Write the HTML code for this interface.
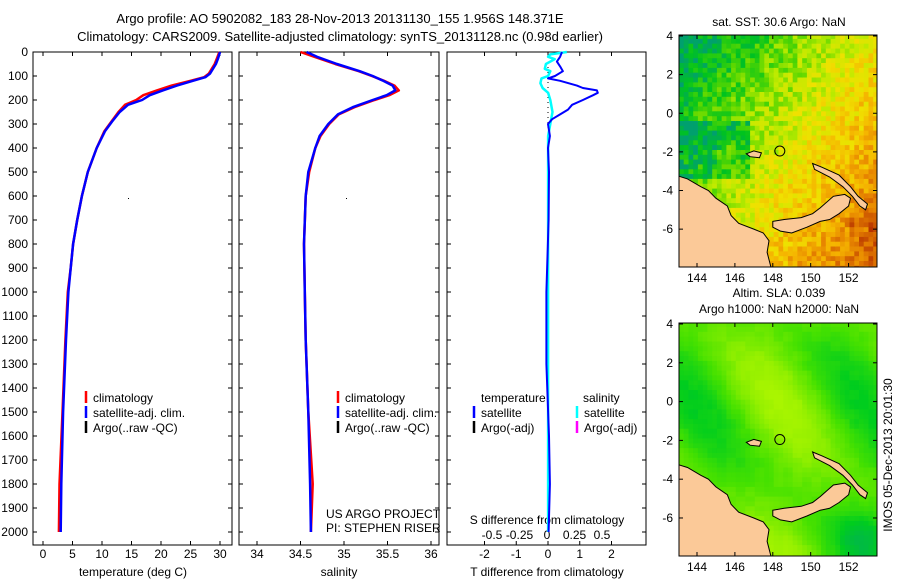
<!DOCTYPE html>
<html><head><meta charset="utf-8"><style>
html,body{margin:0;padding:0;background:#fff;overflow:hidden;}
svg{display:block;font-family:"Liberation Sans",sans-serif;}
text{font-size:12px;fill:#000;}
</style></head><body>
<svg id="fig" width="900" height="580" xmlns="http://www.w3.org/2000/svg">
<defs>
<clipPath id="c1"><rect x="679" y="35" width="198" height="232"/></clipPath>
<clipPath id="c2"><rect x="679" y="323" width="198" height="233"/></clipPath>
</defs>
<text x="340" y="23" text-anchor="middle" style="font-size:13px">Argo profile: AO 5902082_183 28-Nov-2013 20131130_155 1.956S 148.371E</text>
<text x="340" y="41" text-anchor="middle" style="font-size:13px">Climatology: CARS2009. Satellite-adjusted climatology: synTS_20131128.nc (0.98d earlier)</text>
<g id="g1"></g>
<g id="g2"></g>
<g id="g3"></g>
<g id="m1"></g>
<g id="m2"></g>
<text x="0" y="0" transform="translate(892,455) rotate(-90)" text-anchor="middle">IMOS 05-Dec-2013 20:01:30</text>
</svg>
<script>
// ---- data ----
const depthTicks=[0,100,200,300,400,500,600,700,800,900,1000,1100,1200,1300,1400,1500,1600,1700,1800,1900,2000];
const tempTicks=[0,5,10,15,20,25,30];
const salTicks=[34,34.5,35,35.5,36];
const tdiffTicks=[-2,-1,0,1,2];
const sdiffTicks=[-0.5,-0.25,0,0.25,0.5];
const tDepth=[0,25,50,90,105,120,140,160,180,200,220,250,290,330,400,500,600,700,800,900,1000,1200,1500,1800,2000];
const tClim=[29.9,29.5,29.1,28.1,27.3,25.0,21.8,19.3,17.0,15.8,13.9,12.8,11.6,10.4,9.1,7.6,6.6,5.8,5.1,4.7,4.2,3.8,3.3,2.8,2.7];
const tSat=[30.0,29.7,29.3,28.3,27.5,25.4,22.7,20.3,18.1,16.8,14.4,13.0,11.7,10.5,9.1,7.6,6.6,5.8,5.1,4.7,4.3,3.9,3.4,3.1,3.0];
const sDepth=[0,20,50,80,100,120,140,160,180,200,230,260,300,350,400,500,600,800,1000,1200,1500,1800,2000];
const sClim=[34.50,34.66,34.90,35.17,35.32,35.46,35.58,35.63,35.52,35.35,35.12,34.94,34.83,34.73,34.67,34.60,34.56,34.54,34.55,34.56,34.59,34.64,34.62];
const sSat=[34.57,34.69,34.92,35.18,35.33,35.45,35.56,35.59,35.49,35.33,35.10,34.93,34.82,34.72,34.67,34.59,34.56,34.54,34.55,34.56,34.59,34.61,34.62];
const dDepth=[0,20,40,60,80,100,110,120,140,150,160,170,180,200,220,240,260,280,300,350,400,500,700,1000,1300,1600,1800,2000];
const tDiff=[0.44,0.38,0.28,0.38,0.47,0.22,0.0,0.38,0.91,1.10,1.54,1.57,1.42,1.10,0.76,0.63,0.38,0.13,0.0,0.06,0.0,0.03,0.02,-0.05,-0.05,0.03,0.06,0.02];
const sdDepth=[0,10,20,30,50,70,80,100,110,130,150,170,200,250,300,350,500,1000,1500,2000];
const sDiff=[0.18,0.03,0.01,0.07,-0.01,-0.02,0.03,0.01,-0.05,-0.06,-0.04,0.01,0.03,0.05,0.03,0.01,0.01,0.01,0.01,0.01];
const lonTicks=[144,146,148,150,152];
const latTicks=[4,2,0,-2,-4,-6];
const argoLon=148.371, argoLat=-1.956;
const mainland=[[143.0,-3.25],[143.5,-3.4],[144.2,-3.8],[144.6,-4.0],[145.0,-4.4],[145.6,-4.8],[145.8,-5.3],[146.2,-5.7],[147.0,-6.0],[147.5,-6.2],[147.8,-6.6],[147.7,-7.2],[147.9,-7.96],[143.0,-7.96]];
const newBritain=[[148.0,-5.6],[148.6,-5.5],[149.5,-5.4],[150.1,-5.2],[150.5,-4.9],[151.2,-4.3],[151.8,-4.2],[152.1,-4.4],[152.0,-4.8],[151.5,-5.2],[151.0,-5.5],[150.5,-5.6],[149.8,-5.9],[149.0,-6.2],[148.4,-6.1],[148.0,-5.9]];
const newIreland=[[150.1,-2.6],[150.6,-2.8],[151.5,-3.2],[152.1,-3.8],[152.5,-4.3],[153.0,-4.7],[152.9,-5.0],[152.6,-4.8],[152.2,-4.3],[151.7,-3.8],[151.0,-3.3],[150.2,-2.9]];
const manus=[[146.6,-2.1],[147.0,-1.95],[147.4,-2.05],[147.3,-2.3],[146.8,-2.25]];

const NS="http://www.w3.org/2000/svg";
function mk(parent,tag,attrs,txt){const e=document.createElementNS(NS,tag);for(const k in attrs)e.setAttribute(k,attrs[k]);if(txt!==undefined)e.textContent=txt;parent.appendChild(e);return e;}
const yD=d=>52+d*0.24;
function panel(g,x0,x1,name){
  const r=mk(g,'rect',{x:x0,y:52,width:x1-x0,height:493,fill:'#fff',stroke:'#000','stroke-width':1});
  
  
  depthTicks.forEach(d=>{const y=yD(d);
    mk(g,'line',{x1:x0,x2:x0+4,y1:y,y2:y,stroke:'#000'});
    mk(g,'line',{x1:x1-4,x2:x1,y1:y,y2:y,stroke:'#000'});
  });
}
function xticks(g,vals,xf){
  vals.forEach(v=>{const x=xf(v);
    mk(g,'line',{x1:x,x2:x,y1:52,y2:56,stroke:'#000'});
    mk(g,'line',{x1:x,x2:x,y1:541,y2:545,stroke:'#000'});
    const t=mk(g,'text',{x:x,y:558,'text-anchor':'middle'},String(v));
    
    
  });
}
function line(g,xs,ds,xf,color,w,name){
  const pts=xs.map((v,i)=>xf(v).toFixed(1)+','+yD(ds[i]).toFixed(1)).join(' ');
  const p=mk(g,'polyline',{points:pts,fill:'none',stroke:color,'stroke-width':w,'stroke-linejoin':'round'});
  
  
}
function legendItem(g,x,y,color,label,name){
  if(color) mk(g,'line',{x1:x,x2:x,y1:y-11,y2:y+1,stroke:color,'stroke-width':2.5});
  const t=mk(g,'text',{x:x+7,y:y},label);
  
  
}
// Panel 1
const g1=document.getElementById('g1');
const xT=v=>43+v*5.9;
panel(g1,33,232,'temperature');
depthTicks.forEach(d=>{const t=mk(g1,'text',{x:28,y:yD(d)+4,'text-anchor':'end'},String(d));
  
  });
xticks(g1,tempTicks,xT);
line(g1,tClim,tDepth,xT,'#ff0000',2.5,'temperature-climatology-line');
line(g1,tSat,tDepth,xT,'#0000ff',2.5,'temperature-satellite-line');
mk(g1,'rect',{x:128,y:198,width:1,height:1,fill:'#000'});
legendItem(g1,86,402,'#ff0000','climatology','legend-climatology');
legendItem(g1,86,417,'#0000ff','satellite-adj. clim.','legend-satellite');
legendItem(g1,86,432,'#000','Argo(..raw -QC)','legend-argo');
let tt=mk(g1,'text',{x:133,y:576,'text-anchor':'middle'},'temperature (deg C)');

// Panel 2
const g2=document.getElementById('g2');
const xS=v=>257+(v-34)*87;
panel(g2,239,439,'salinity');
xticks(g2,salTicks,xS);
line(g2,sClim,sDepth,xS,'#ff0000',2.5,'salinity-climatology-line');
line(g2,sSat,sDepth,xS,'#0000ff',2.5,'salinity-satellite-line');
mk(g2,'rect',{x:346,y:198,width:1,height:1,fill:'#000'});
legendItem(g2,338,402,'#ff0000','climatology','legend-climatology');
legendItem(g2,338,417,'#0000ff','satellite-adj. clim.','legend-satellite');
legendItem(g2,338,432,'#000','Argo(..raw -QC)','legend-argo');
mk(g2,'text',{x:326,y:518},'US ARGO PROJECT');
mk(g2,'text',{x:326,y:532},'PI: STEPHEN RISER');
tt=mk(g2,'text',{x:339,y:576,'text-anchor':'middle'},'salinity');

// Panel 3
const g3=document.getElementById('g3');
const xTd=v=>548+v*31.75;
const xSd=v=>547+v*110;
panel(g3,447,646,'difference');
xticks(g3,tdiffTicks,xTd);
sdiffTicks.forEach(v=>{const t=mk(g3,'text',{x:xSd(v),y:539,'text-anchor':'middle'},String(v));
  });
mk(g3,'text',{x:547,y:524,'text-anchor':'middle'},'S difference from climatology');
mk(g3,'line',{x1:548,x2:548,y1:52,y2:yD(450),stroke:'#000','stroke-dasharray':'1,4'});
line(g3,sDiff,sdDepth,xSd,'#00ffff',2.5,'salinity-diff-line');
line(g3,tDiff,dDepth,xTd,'#0000ff',2,'temperature-diff-line');
mk(g3,'text',{x:481,y:402},'temperature');
mk(g3,'text',{x:583,y:402},'salinity');
legendItem(g3,474,417,'#0000ff','satellite','legend-t-satellite');
legendItem(g3,474,432,'#000','Argo(-adj)','legend-t-argo');
legendItem(g3,577,417,'#00ffff','satellite','legend-s-satellite');
legendItem(g3,577,432,'#ff00ff','Argo(-adj)','legend-s-argo');
tt=mk(g3,'text',{x:547,y:576,'text-anchor':'middle'},'T difference from climatology');


// ---- maps ----
function hash(i,j,s){let h=(i*374761393+j*668265263+s*1442695041)|0;h=(h^(h>>>13))*1274126177|0;h=h^(h>>>16);return ((h>>>0)%1000)/1000;}
function lerpC(stops,t){t=Math.max(0,Math.min(1,t));const n=stops.length-1;const k=Math.min(n-1,Math.floor(t*n));const f=t*n-k;const a=stops[k],b=stops[k+1];return 'rgb('+[0,1,2].map(c=>Math.round(a[c]+(b[c]-a[c])*f)).join(',')+')';}
const sstStops=[[0,160,110],[0,195,30],[90,215,0],[190,235,0],[240,225,0],[245,180,0],[230,130,0],[200,80,0],[170,30,0]];
const slaStops=[[0,175,90],[0,205,30],[70,225,0],[150,240,0],[190,250,0]];
function map(gid,clip,top,bot,title1,title2,kind){
  const g=document.getElementById(gid);
  const L=679,R=877,lon0=143.05,lon1=153.5,lat4y=top+1,py=(bot-lat4y)/(4+7.96);
  const X=lo=>L+(lo-lon0)*(R-L)/(lon1-lon0);
  const Y=la=>lat4y+(4-la)*py;
  const step=0.25;
  const cg=mk(g,'g',{'clip-path':'url(#'+clip+')'});
  let i=0;
  for(let lo=lon0;lo<lon1;lo+=step){let j=0;
    for(let la=4.1;la>-8.2;la-=step){
      let col;
      if(kind==='sst'){
        let v=0.36+0.045*(lo-148)-0.03*la+0.2*(hash(i,j,1)-0.5);
        if(lo<146.6&&la<-0.3&&la>-3.3) v-=0.08+0.12*hash(i,j,3);
        if(lo>152&&la<-5&&la>-7) v+=0.1*hash(i,j,4);
        col=lerpC(sstStops,v);
      }else{
        let v=0.55+0.3*Math.sin((lo-146)*0.7+la*0.4)*Math.cos(la*0.35)-0.25*Math.exp(-((lo-152.6)**2+(la+6.8)**2)/1.5)+0.06*(hash(i>>1,j>>1,2)-0.5);
        col=lerpC(slaStops,v);
      }
      mk(cg,'rect',{x:X(lo).toFixed(1),y:Y(la).toFixed(1),width:(step*(R-L)/(lon1-lon0)+0.6).toFixed(1),height:(step*py+0.6).toFixed(1),fill:col});
      j++;}
    i++;}
  [mainland,newBritain,newIreland,manus].forEach((poly,k)=>{
    const p=mk(cg,'polygon',{points:poly.map(q=>X(q[0]).toFixed(1)+','+Y(q[1]).toFixed(1)).join(' '),fill:'#fbc998',stroke:'#000','stroke-width':1});
    
    
  });
  const c=mk(g,'circle',{cx:X(argoLon),cy:Y(argoLat),r:5,fill:'none',stroke:'#000'});
  
  
  mk(g,'rect',{x:L,y:top,width:R-L,height:bot-top,fill:'none',stroke:'#000'});
  lonTicks.forEach(v=>{const x=X(v);
    mk(g,'line',{x1:x,x2:x,y1:top,y2:top+4,stroke:'#000'});
    mk(g,'line',{x1:x,x2:x,y1:bot-4,y2:bot,stroke:'#000'});
    const t=mk(g,'text',{x:x,y:bot+15,'text-anchor':'middle'},String(v));
    });
  latTicks.forEach(v=>{const y=Y(v);
    mk(g,'line',{x1:L,x2:L+4,y1:y,y2:y,stroke:'#000'});
    mk(g,'line',{x1:R-4,x2:R,y1:y,y2:y,stroke:'#000'});
    const t=mk(g,'text',{x:673,y:y+4,'text-anchor':'end'},String(v));
    });
  let t1=mk(g,'text',{x:779,y:title2?top-26:top-9,'text-anchor':'middle'},title1);
  
  if(title2){let t2=mk(g,'text',{x:779,y:top-10,'text-anchor':'middle'},title2);
    }
}
map('m1','c1',35,267,'sat. SST: 30.6 Argo: NaN',null,'sst');
map('m2','c2',323,556,'Altim. SLA: 0.039','Argo h1000: NaN h2000: NaN','sla');
</script>
</body></html>
